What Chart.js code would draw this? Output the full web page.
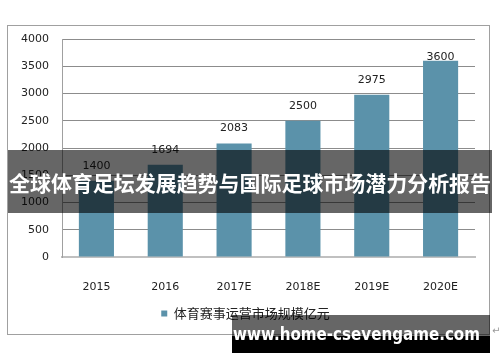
<!DOCTYPE html>
<html>
<head>
<meta charset="utf-8">
<script src="https://cdn.jsdelivr.net/npm/chart.js@4"></script>
<style>
  body { margin: 0; background: #fff; }
  #mycanvas { display: block; }
</style>
</head>
<body>
<canvas id="mycanvas" width="500" height="362"></canvas>
<script>
var years = ["2015", "2016", "2017E", "2018E", "2019E", "2020E"];
var marketSize = [1400, 1694, 2083, 2500, 2975, 3600];
var seriesName = "体育赛事运营市场规模亿元";
var bannerText = "全球体育足坛发展趋势与国际足球市场潜力分析报告";
var siteText = "www.home-csevengame.com";

var barColor = "#5b92aa";
var textColor = "#222222";

// frame round the whole chart, like the exported office chart
var framePlugin = {
	id: "frame",
	beforeDraw: function(chart) {
		var ctx = chart.ctx;
		ctx.save();
		ctx.fillStyle = "#ffffff";
		ctx.fillRect(0, 0, chart.width, chart.height);
		ctx.strokeStyle = "#a0a0a0";
		ctx.lineWidth = 1;
		ctx.strokeRect(7.5, 25.5, 482, 309);
		ctx.restore();
	}
};

// value labels on top of the bars
var valuePlugin = {
	id: "values",
	afterDatasetsDraw: function(chart) {
		var ctx = chart.ctx;
		var meta = chart.getDatasetMeta(0);
		ctx.save();
		ctx.font = "11px 'DejaVu Sans'";
		ctx.fillStyle = textColor;
		ctx.textAlign = "center";
		ctx.textBaseline = "middle";
		meta.data.forEach(function(bar, i) {
			var y = Math.max(bar.y - 15, chart.chartArea.top + 18);
			ctx.fillText(String(marketSize[i]), bar.x, y);
		});
		ctx.restore();
	}
};

// the banner and site stamp laid over the picture
var overlayPlugin = {
	id: "overlay",
	afterDraw: function(chart) {
		var ctx = chart.ctx;
		ctx.save();
		ctx.fillStyle = "rgba(0,0,0,0.6)";
		ctx.fillRect(8, 150, 484, 63);
		ctx.fillStyle = "#ffffff";
		ctx.font = "bold 21px 'Noto Sans CJK SC'";
		ctx.textAlign = "center";
		ctx.textBaseline = "middle";
		ctx.fillText(bannerText, 250, 183, 482);

		ctx.fillStyle = "rgba(0,0,0,0.6)";
		ctx.fillRect(232, 315, 258, 21);
		ctx.fillStyle = "#000000";
		ctx.fillRect(232, 336, 258, 17);
		ctx.fillStyle = "#ffffff";
		ctx.font = "bold 17px 'DejaVu Sans'";
		ctx.textAlign = "left";
		ctx.fillText(siteText, 233, 336, 247);

		ctx.fillStyle = "#999999";
		ctx.font = "10px 'DejaVu Sans'";
		ctx.fillText("↵", 492, 331);
		ctx.restore();
	}
};

var chartdata = {
	labels: years,
	datasets: [
		{
			label: seriesName,
			backgroundColor: barColor,
			borderWidth: 0,
			categoryPercentage: 1,
			barPercentage: 0.51,
			data: marketSize
		}
	]
};

var ctx = document.getElementById("mycanvas");

var barGraph = new Chart(ctx, {
	type: "bar",
	data: chartdata,
	plugins: [framePlugin, valuePlugin, overlayPlugin],
	options: {
		responsive: false,
		animation: false,
		devicePixelRatio: 1,
		layout: {
			padding: { left: 16, right: 25, top: 39, bottom: 32 }
		},
		plugins: {
			legend: {
				position: "bottom",
				labels: {
					boxWidth: 6,
					boxHeight: 6,
					color: textColor,
					font: { family: "'Noto Sans CJK SC'", size: 13 }
				}
			},
			tooltip: { enabled: false }
		},
		scales: {
			x: {
				grid: { display: false },
				border: { display: true, color: "#c0c0c0", width: 2 },
				ticks: {
					color: textColor,
					padding: 16,
					font: { family: "'DejaVu Sans'", size: 11 }
				},
				afterFit: function(scale) { scale.height = 40; }
			},
			y: {
				min: 0,
				max: 4000,
				grid: {
					drawTicks: false,
					color: function(c) { return c.tick && c.tick.value === 0 ? "#c0c0c0" : "#8c8c8c"; }
				},
				border: { display: true, color: "#a0a0a0", width: 1 },
				ticks: {
					stepSize: 500,
					color: textColor,
					padding: 13,
					font: { family: "'DejaVu Sans'", size: 11 },
					callback: function(value) { return String(value); }
				},
				afterFit: function(scale) { scale.width = 46; }
			}
		}
	}
});
</script>
</body>
</html>
